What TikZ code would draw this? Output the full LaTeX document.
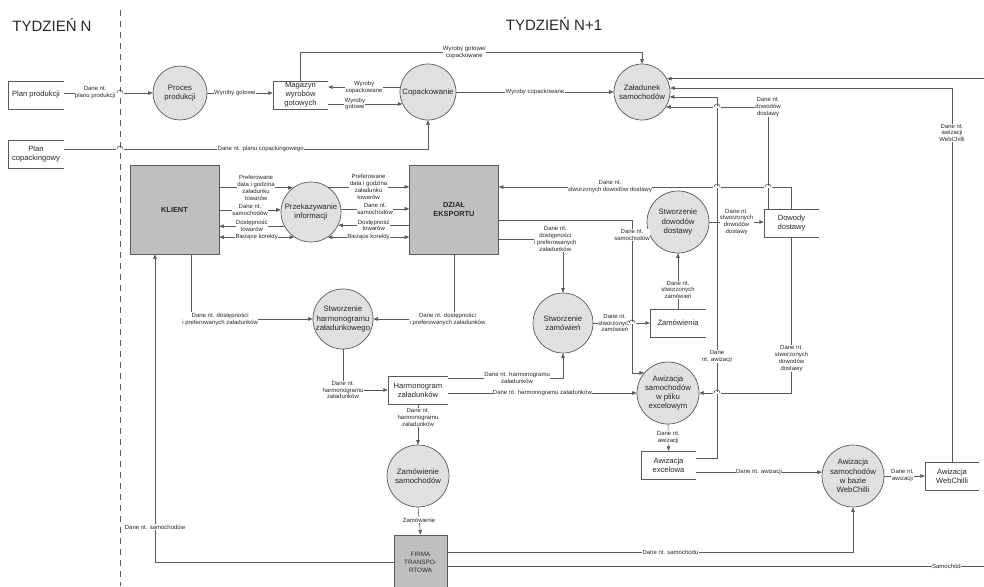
\documentclass[tikz,border=0pt]{standalone}
\usepackage{fontspec}
\setmainfont{Liberation Sans}
\usetikzlibrary{arrows.meta,positioning}

\definecolor{linegray}{gray}{0.35}
\definecolor{procgray}{gray}{0.88}
\definecolor{entgray}{gray}{0.75}

% small jump where a flow crosses another line
\newcommand{\hop}[2]{%
  \fill[white] (#1-3.6,#2-0.6) rectangle (#1+3.6,#2+0.6);
  \draw[wire] (#1-3,#2) arc[start angle=180, end angle=360, radius=3];}

\begin{document}
\begin{tikzpicture}[
  x=1pt, y=-1pt,
  >={Triangle[length=4.5pt, width=3.6pt]},
  every node/.style={align=center, text=black!85},
  heading/.style={font=\fontsize{15}{18}\selectfont},
  process/.style={circle, draw=linegray, fill=procgray, line width=0.7pt, minimum size=60pt, inner sep=0pt, font=\fontsize{7.8}{9.3}\selectfont},
  entity/.style={rectangle, draw=linegray, fill=entgray, line width=0.7pt, minimum width=89pt, minimum height=89pt, font=\fontsize{7.4}{9.2}\selectfont\bfseries},
  store/.style={rectangle, minimum width=56pt, minimum height=28pt, inner sep=0pt, font=\fontsize{7.6}{9}\selectfont},
  lbl/.style={fill=white, inner sep=0.4pt, font=\fontsize{6}{6.9}\selectfont},
  wire/.style={draw=linegray, line width=0.6pt},
  flow/.style={wire, ->}
]
\useasboundingbox (0,0) rectangle (984,586);
\clip (0,0) rectangle (984,586);

% Week headers and separator
\node[heading] (weekN) at (52,25) {TYDZIEŃ N};
\node[heading] (weekN1) at (554,24) {TYDZIEŃ N+1};
\draw[wire, dash pattern=on 6pt off 5pt] (120,10) -- (120,586);

% Stores (open boxes)
\node[store] (planprod) at (36,95) {Plan produkcji};
\node[store] (plancop) at (36,154) {Plan\\copackingowy};
\node[store, minimum width=55pt] (magazyn) at (300.5,95) {Magazyn\\wyrobów\\gotowych};
\node[store, minimum width=55pt] (dowbox) at (791.5,223) {Dowody\\dostawy};
\node[store] (zamowienia) at (678,323) {Zamówienia};
\node[store, minimum width=60pt] (harmbox) at (418,390) {Harmonogram\\załadunków};
\node[store, minimum width=55pt] (excelbox) at (668.5,465) {Awizacja\\excelowa};
\node[store, minimum width=54pt] (webbox) at (952,476) {Awizacja\\WebChilli};
\foreach \s in {planprod,plancop,magazyn,dowbox,zamowienia,harmbox,excelbox,webbox}
  \draw[wire] (\s.north east) -- (\s.north west) -- (\s.south west) -- (\s.south east);

% Processes
\node[process, minimum size=54pt] (proces) at (180,93) {Proces\\produkcji};
\node[process, minimum size=56pt] (copack) at (428,92) {Copackowanie};
\node[process, minimum size=56pt] (zaladunek) at (642,92) {Załadunek\\samochodów};
\node[process] (przekaz) at (311,212) {Przekazywanie\\informacji};
\node[process] (harmon) at (343,319) {Stworzenie\\harmonogramu\\załadunkowego};
\node[process] (zamow) at (563,323) {Stworzenie\\zamówień};
\node[process, minimum size=62pt] (dowody) at (678,222) {Stworzenie\\dowodów\\dostawy};
\node[process, minimum size=62pt] (awizpl) at (668,393) {Awizacja\\samochodów\\w pliku\\excelowym};
\node[process, minimum size=62pt] (awizweb) at (853,476) {Awizacja\\samochodów\\w bazie\\WebChilli};
\node[process, minimum size=62pt] (zamsam) at (418,476) {Zamówienie\\samochodów};

% External entities
\node[entity] (klient) at (174.5,209.5) {KLIENT};
\node[entity] (dzial) at (454,209.5) {DZIAŁ\\EKSPORTU};
\node[entity, minimum width=53pt, minimum height=54pt, font=\fontsize{6.3}{8}\selectfont] (firma) at (420.5,562) {FIRMA\\TRANSPO-\\RTOWA};

% Production and copacking
\draw[flow] (planprod.east |- proces.west) -- node[lbl, pos=0.35]{Dane nt.\\planu produkcji} (proces.west);
\draw[flow] (proces.east) -- node[lbl, pos=0.42]{Wyroby gotowe} (magazyn.west |- proces.east);
\draw[flow] (copack.170) -- node[lbl]{Wyroby\\copackowane} (magazyn.east |- copack.170);
\draw[flow] (magazyn.east |- copack.205) -- node[lbl, pos=0.36]{Wyroby\\gotowe} (copack.205);
\draw[flow] (magazyn.north) -- (magazyn.north |- 0,52) -| node[lbl, pos=0.24]{Wyroby gotowe/\\copackowane} (zaladunek.north);
\draw[flow] (plancop.east |- 0,149) -| node[lbl, pos=0.27]{Dane nt. planu copackingowego} (copack.south);
\draw[flow] (copack.east) -- node[lbl]{Wyroby copackowane} (zaladunek.west);

% Into loading
\coordinate (edgetop) at (984,79);
\draw[flow] (edgetop |- zaladunek.28) -- (zaladunek.28);
\draw[flow] (webbox.north) |- node[lbl, pos=0.44]{Dane nt.\\awizacji\\WebChilli} (zaladunek.8);
\draw[flow] (excelbox.east |- 0,458) -| node[lbl, pos=0.64]{Dane\\nt. awizacji} (717,0 |- zaladunek.350) -- (zaladunek.350);
\draw[flow] (dowbox.north -| 768,0) |- node[lbl]{Dane nt.\\dowodów\\dostawy} (zaladunek.328);

% Delivery documents
\draw[flow] (dowbox.north) |- node[lbl, pos=0.81]{Dane nt.\\stworzonych dowodów dostawy} (dzial.east |- 0,187);
\draw[flow] (dowbox.south) |- node[lbl, pos=0.39]{Dane nt.\\stworzonych\\dowodów\\dostawy} (awizpl.east);
\draw[flow] (dowody.east) -- node[lbl]{Dane nt.\\stworzonych\\dowodów\\dostawy} (dowbox.west |- dowody.east);

% Client <-> information transfer <-> export dept
\draw[flow] (klient.east |- przekaz.127) -- node[lbl]{Preferowane\\data i godzina\\załadunku\\towarów} (przekaz.127);
\draw[flow] (klient.east |- przekaz.176) -- node[lbl]{Dane nt.\\samochodów} (przekaz.176);
\draw[flow] (przekaz.208) -- node[lbl]{Dostępność\\towarów} (klient.east |- przekaz.208);
\draw[flow, <->] (klient.east |- przekaz.236) -- node[lbl]{Bieżące korekty} (przekaz.236);
\draw[flow] (przekaz.56) -- node[lbl]{Preferowane\\data i godzina\\załadunku\\towarów} (dzial.west |- przekaz.56);
\draw[flow] (przekaz.6) -- node[lbl]{Dane nt.\\samochodów} (dzial.west |- przekaz.6);
\draw[flow] (dzial.west |- przekaz.334) -- node[lbl]{Dostępność\\towarów} (przekaz.334);
\draw[flow, <->] (dzial.west |- przekaz.304) -- node[lbl]{Bieżące korekty} (przekaz.304);

% Loading schedule
\draw[flow] (klient.south -| 191,0) |- node[lbl, pos=0.62]{Dane nt. dostępności\\i preferowanych załadunków} (harmon.west);
\draw[flow] (dzial.south) |- node[lbl, pos=0.54]{Dane nt. dostępności\\i preferowanych załadunków} (harmon.east);
\draw[flow] (harmon.south) |- node[lbl]{Dane nt.\\harmonogramu\\załadunków} (harmbox.west);
\draw[flow] (harmbox.east |- 0,378) -| node[lbl, pos=0.3]{Dane nt. harmonogramu\\załadunków} (zamow.south);
\draw[flow] (harmbox.east |- awizpl.west) -- node[lbl]{Dane nt. harmonogramu załadunków} (awizpl.west);
\draw[flow] (harmbox.south) -- node[lbl, pos=0.32]{Dane nt.\\harmonogramu\\załadunków} (zamsam.north);

% Orders
\draw[flow] (dzial.east |- 0,239) -| node[lbl, pos=0.44]{Dane nt.\\dostępności\\i preferowanych\\załadunków} (zamow.north);
\draw[flow] (zamow.east) -- node[lbl, pos=0.38]{Dane nt.\\stworzonych\\zamówień} (zamowienia.west);
\draw[flow] (zamowienia.north) -- node[lbl, pos=0.34]{Dane nt.\\stworzonych\\zamówień} (dowody.south);
\draw[flow] (dzial.east |- 0,220) -| node[lbl, pos=0.55]{Dane nt.\\samochodów} (632,0 |- awizpl.140) -- (awizpl.140);

% Notification
\draw[flow] (awizpl.south) -- node[lbl]{Dane nt.\\awizacji} (excelbox.north);
\draw[flow] (excelbox.east |- awizweb.173) -- node[lbl]{Dane nt. awizacji} (awizweb.173);
\draw[flow] (awizweb.east) -- node[lbl, pos=0.45]{Dane nt.\\awizacji} (webbox.west |- awizweb.east);

% Transport company
\draw[flow] (zamsam.south) -- node[lbl, pos=0.46]{Zamówienie} (firma.north);
\draw[flow] (firma.west) -| node[lbl, pos=0.557]{Dane nt. samochodów} (klient.south -| 155,0);
\draw[flow] (firma.east |- 0,552) -| node[lbl, pos=0.275]{Dane nt. samochodu} (awizweb.south);
\coordinate (edgebot) at (984,566);
\draw[wire] (firma.east |- edgebot) -- node[lbl, pos=0.93]{Samochód} (edgebot);

% Line jumps
\hop{120}{93} \hop{120}{149}
\hop{717}{107} \hop{717}{187} \hop{768}{187} \hop{717}{393}
\hop{632}{323}

\end{tikzpicture}
\end{document}
